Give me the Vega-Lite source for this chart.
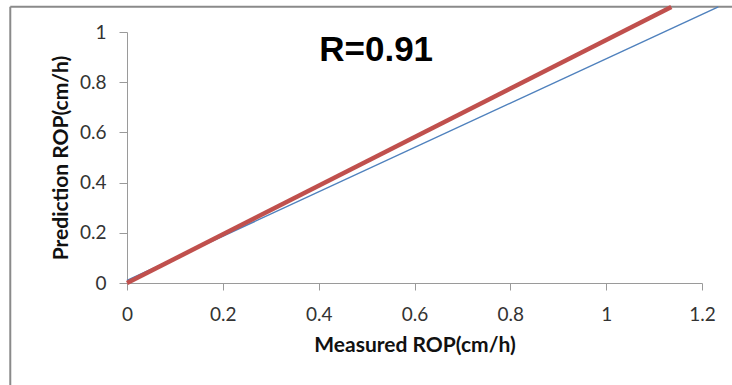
{
  "$schema": "https://vega.github.io/schema/vega-lite/v6.json",
  "width": 575,
  "height": 251,
  "autosize": "none",
  "padding": {"left": 127, "top": 32, "right": 30, "bottom": 102},
  "background": "white",
  "config": {"view": {"stroke": null}, "font": "Lato"},
  "datasets": {
    "lines": [
      {"series": "Measured fit", "x": 0, "y": 0.01},
      {"series": "Measured fit", "x": 1.234, "y": 1.1},
      {"series": "Prediction", "x": 0, "y": 0},
      {"series": "Prediction", "x": 1.136, "y": 1.1}
    ],
    "frame": [
      {"x": -0.2436, "x2": -0.2436, "y": -0.6, "y2": 1.1008},
      {"x": -0.2436, "x2": 1.4, "y": 1.1008, "y2": 1.1008}
    ],
    "label": [{"x": 0.52, "y": 0.927, "text": "R=0.91"}]
  },
  "layer": [
    {
      "data": {"name": "frame"},
      "mark": {"type": "rule", "clip": false, "color": "#8a8a8a", "strokeWidth": 2},
      "encoding": {
        "x": {"field": "x", "type": "quantitative", "scale": {"domain": [0, 1.2]}},
        "x2": {"field": "x2"},
        "y": {"field": "y", "type": "quantitative", "scale": {"domain": [0, 1]}},
        "y2": {"field": "y2"}
      }
    },
    {
      "data": {"name": "lines"},
      "mark": {"type": "line", "clip": false},
      "encoding": {
        "x": {
          "field": "x", "type": "quantitative",
          "scale": {"domain": [0, 1.2], "nice": false, "zero": false},
          "axis": {
            "values": [0, 0.2, 0.4, 0.6, 0.8, 1, 1.2],
            "labelExpr": "datum.value + ''",
            "title": "Measured ROP(cm/h)",
            "grid": false,
            "domainColor": "#9a9a9a",
            "tickColor": "#9a9a9a",
            "tickSize": 7,
            "labelFontSize": 19,
            "labelColor": "#333333",
            "labelPadding": 15,
            "titleFontSize": 21,
            "titleFontWeight": "bold",
            "titleColor": "#111111",
            "titlePadding": 10,
            "labelFlush": false
          }
        },
        "y": {
          "field": "y", "type": "quantitative",
          "scale": {"domain": [0, 1], "nice": false},
          "axis": {
            "values": [0, 0.2, 0.4, 0.6, 0.8, 1],
            "labelExpr": "datum.value + ''",
            "title": "Prediction ROP(cm/h)",
            "grid": false,
            "domainColor": "#9a9a9a",
            "tickColor": "#9a9a9a",
            "tickSize": 8,
            "labelFontSize": 19,
            "labelColor": "#333333",
            "labelPadding": 13,
            "titleFontSize": 21,
            "titleFontWeight": "bold",
            "titleColor": "#111111",
            "titlePadding": 8,
            "labelFlush": false
          }
        },
        "color": {
          "field": "series", "type": "nominal",
          "scale": {"domain": ["Measured fit", "Prediction"], "range": ["#4f81bd", "#c0504d"]},
          "legend": null
        },
        "strokeWidth": {
          "field": "series", "type": "nominal",
          "scale": {"domain": ["Measured fit", "Prediction"], "range": [1.5, 4.5]},
          "legend": null
        },
        "order": {"field": "series"}
      }
    },
    {
      "data": {"name": "label"},
      "mark": {"type": "text", "font": "Liberation Sans", "fontWeight": "bold", "fontSize": 35, "color": "#000000", "align": "center", "baseline": "middle"},
      "encoding": {
        "x": {"field": "x", "type": "quantitative"},
        "y": {"field": "y", "type": "quantitative"},
        "text": {"field": "text"}
      }
    }
  ]
}
